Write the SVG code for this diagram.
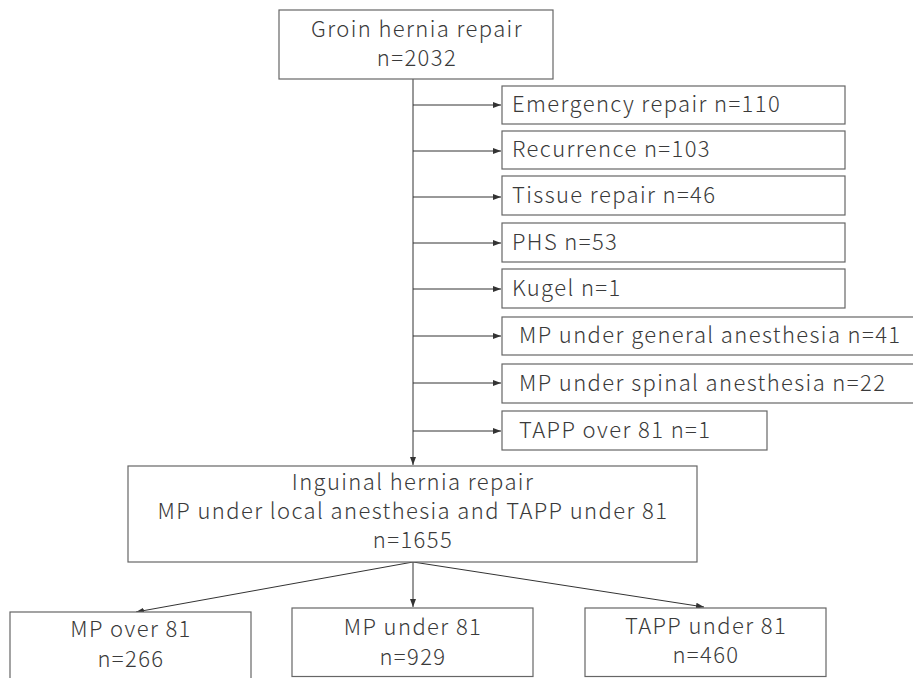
<svg xmlns="http://www.w3.org/2000/svg" width="913" height="678" viewBox="0 0 913 678">
<defs>
<marker id="ah" viewBox="0 0 8 8" refX="8" refY="4" markerWidth="8" markerHeight="8" markerUnits="userSpaceOnUse" orient="auto">
<path d="M0,1 L8,4 L0,7 Z" fill="#333"/>
</marker>
</defs>
<style>
.box{fill:#fff;stroke:#666;stroke-width:1.2}
.t{font-family:"Noto Sans CJK JP","Noto Sans",sans-serif;font-size:22px;font-weight:300;letter-spacing:1.4px;fill:#3a3a3a}
.c{text-anchor:middle}
.ln{stroke:#333;stroke-width:1;fill:none;marker-end:url(#ah)}
</style>
<rect width="913" height="678" fill="#fff"/>
<g id="connectors">
<line class="ln" x1="413" y1="79" x2="413" y2="465"/>
<line class="ln" x1="413" y1="105" x2="501" y2="105"/>
<line class="ln" x1="413" y1="151" x2="501" y2="151"/>
<line class="ln" x1="413" y1="197" x2="501" y2="197"/>
<line class="ln" x1="413" y1="243" x2="501" y2="243"/>
<line class="ln" x1="413" y1="289" x2="501" y2="289"/>
<line class="ln" x1="413" y1="336" x2="501" y2="336"/>
<line class="ln" x1="413" y1="383" x2="501" y2="383"/>
<line class="ln" x1="413" y1="431" x2="501" y2="431"/>
<line class="ln" x1="413" y1="562" x2="136" y2="612"/>
<line class="ln" x1="413" y1="562" x2="413" y2="607"/>
<line class="ln" x1="413" y1="562" x2="704" y2="607"/>
</g>
<g id="n_groin">
<rect class="box" x="279" y="10" width="274" height="69"/>
<text class="t c" x="417" y="37">Groin hernia repair</text>
<text class="t c" x="417" y="66">n=2032</text>
</g>
<g id="n_emergency">
<rect class="box" x="502" y="86" width="343" height="38"/>
<text class="t" x="512" y="112">Emergency repair n=110</text>
</g>
<g id="n_recurrence">
<rect class="box" x="502" y="131" width="343" height="38"/>
<text class="t" x="512" y="157">Recurrence n=103</text>
</g>
<g id="n_tissue">
<rect class="box" x="502" y="176" width="343" height="39"/>
<text class="t" x="512" y="203">Tissue repair n=46</text>
</g>
<g id="n_phs">
<rect class="box" x="502" y="223" width="343" height="39"/>
<text class="t" x="512" y="250">PHS n=53</text>
</g>
<g id="n_kugel">
<rect class="box" x="502" y="269" width="343" height="39"/>
<text class="t" x="512" y="296">Kugel n=1</text>
</g>
<g id="n_mpgeneral">
<rect class="box" x="502" y="317" width="420" height="38"/>
<text class="t" x="519" y="343">MP under general anesthesia n=41</text>
</g>
<g id="n_mpspinal">
<rect class="box" x="502" y="364" width="420" height="39"/>
<text class="t" x="519" y="391">MP under spinal anesthesia n=22</text>
</g>
<g id="n_tappover">
<rect class="box" x="502" y="411" width="265" height="39"/>
<text class="t" x="519" y="438">TAPP over 81 n=1</text>
</g>
<g id="n_inguinal">
<rect class="box" x="128" y="466" width="569" height="96"/>
<text class="t c" x="413" y="490">Inguinal hernia repair</text>
<text class="t c" x="413" y="519">MP under local anesthesia and TAPP under 81</text>
<text class="t c" x="413" y="548">n=1655</text>
</g>
<g id="n_mpover">
<rect class="box" x="10" y="612" width="241" height="80"/>
<text class="t c" x="131" y="637">MP over 81</text>
<text class="t c" x="131" y="667">n=266</text>
</g>
<g id="n_mpunder">
<rect class="box" x="292" y="608" width="241" height="68.5"/>
<text class="t c" x="413" y="635">MP under 81</text>
<text class="t c" x="413" y="665">n=929</text>
</g>
<g id="n_tappunder">
<rect class="box" x="585" y="608" width="241" height="68.5"/>
<text class="t c" x="706" y="634">TAPP under 81</text>
<text class="t c" x="706" y="663">n=460</text>
</g>
</svg>
